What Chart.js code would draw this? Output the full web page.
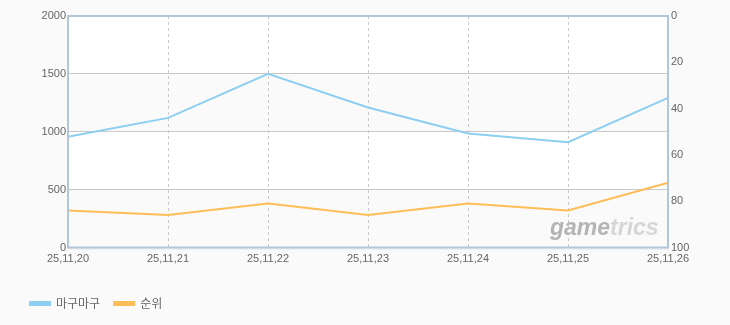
<!DOCTYPE html>
<html>
<head>
<meta charset="utf-8">
<script src="https://cdn.jsdelivr.net/npm/chart.js@4"></script>
<style>
    body { margin: 0; background: #fafafa; }
    #trendChart { display: block; }
</style>
</head>
<body>
<canvas id="trendChart" width="730" height="325"></canvas>
<script>
// Data
const dates = ['25,11,20', '25,11,21', '25,11,22', '25,11,23', '25,11,24', '25,11,25', '25,11,26'];
const magumagu = [956, 1120, 1500, 1209, 985, 910, 1293];
const rank = [84, 86, 81, 86, 81, 84, 72];
const leftTicks = [0, 500, 1000, 1500, 2000];
const rightTicks = [0, 20, 40, 60, 80, 100];

const tickFont = { family: "'Liberation Sans', Arial, sans-serif", size: 11 };

// Background, alternating bands, frame and watermark
const framePlugin = {
    id: 'frame',
    beforeDraw(chart) {
        const { ctx, chartArea: a, scales } = chart;
        ctx.save();
        ctx.fillStyle = '#fafafa';
        ctx.fillRect(0, 0, chart.width, chart.height);
        ctx.fillStyle = '#ffffff';
        ctx.fillRect(a.left, a.top, a.right - a.left, a.bottom - a.top);
        ctx.fillStyle = '#fafafa';
        for (let i = 0; i < leftTicks.length - 1; i += 2) {
            const y0 = scales.y.getPixelForValue(leftTicks[i]);
            const y1 = scales.y.getPixelForValue(leftTicks[i + 1]);
            ctx.fillRect(a.left, y1, a.right - a.left, y0 - y1);
        }
        ctx.restore();
    },
    beforeDatasetsDraw(chart) {
        const { ctx, chartArea: a } = chart;
        ctx.save();
        ctx.font = "italic bold 23px 'Liberation Sans', Arial, sans-serif";
        ctx.textBaseline = 'alphabetic';
        const x = a.right - 118;
        const y = a.bottom - 13;
        ctx.fillStyle = '#b4b4b4';
        ctx.fillText('game', x, y);
        const w = ctx.measureText('game').width;
        ctx.fillStyle = '#d6d6d6';
        ctx.fillText('trics', x + w, y);
        ctx.restore();
    },
    afterDraw(chart) {
        const { ctx, chartArea: a } = chart;
        ctx.save();
        // soft shadow under the bottom border
        ctx.strokeStyle = '#e2e6ea';
        ctx.lineWidth = 1;
        ctx.beginPath();
        ctx.moveTo(a.left, a.bottom + 1.5);
        ctx.lineTo(a.right + 1, a.bottom + 1.5);
        ctx.stroke();
        ctx.strokeStyle = '#b2c6da';
        ctx.lineWidth = 2;
        ctx.strokeRect(a.left, a.top, a.right - a.left, a.bottom - a.top);
        ctx.restore();
    }
};

const ctx = document.getElementById('trendChart').getContext('2d');
new Chart(ctx, {
    type: 'line',
    data: {
        labels: dates,
        datasets: [{
            label: '마구마구',
            data: magumagu,
            yAxisID: 'y',
            borderColor: '#8dcff0',
            backgroundColor: '#8dcff0',
            borderWidth: 2,
            pointRadius: 0,
            tension: 0
        }, {
            label: '순위',
            data: rank,
            yAxisID: 'y1',
            borderColor: '#ffbd58',
            backgroundColor: '#ffbd58',
            borderWidth: 2,
            pointRadius: 0,
            tension: 0
        }]
    },
    options: {
        responsive: false,
        animation: false,
        layout: {
            padding: { left: 16, right: 0, top: 16, bottom: 5.5 }
        },
        plugins: {
            tooltip: { enabled: false },
            legend: {
                position: 'bottom',
                align: 'start',
                labels: {
                    boxWidth: 20,
                    boxHeight: 3,
                    padding: 14,
                    color: '#666666',
                    font: { family: "'Noto Sans CJK KR', sans-serif", size: 12 }
                }
            }
        },
        scales: {
            x: {
                offset: false,
                grid: { color: '#c8c8c8', drawTicks: false },
                border: { display: false, dash: [3, 3] },
                ticks: { color: '#666666', font: tickFont, padding: 5, maxRotation: 0, autoSkip: false },
                afterFit: scale => { scale.height = 36; }
            },
            y: {
                position: 'left',
                min: 0,
                max: 2000,
                grid: { color: '#c8c8c8', drawTicks: false },
                border: { display: false },
                ticks: { color: '#666666', font: tickFont, padding: 2, callback: v => String(v) },
                afterBuildTicks: scale => { scale.ticks = leftTicks.map(v => ({ value: v })); },
                afterFit: scale => { scale.width = 52; }
            },
            y1: {
                position: 'right',
                reverse: true,
                min: 0,
                max: 100,
                grid: { drawOnChartArea: false, drawTicks: false },
                border: { display: false },
                ticks: { color: '#666666', font: tickFont, padding: 3, callback: v => String(v) },
                afterBuildTicks: scale => { scale.ticks = rightTicks.map(v => ({ value: v })); },
                afterFit: scale => { scale.width = 62; }
            }
        }
    },
    plugins: [framePlugin]
});
</script>
</body>
</html>
